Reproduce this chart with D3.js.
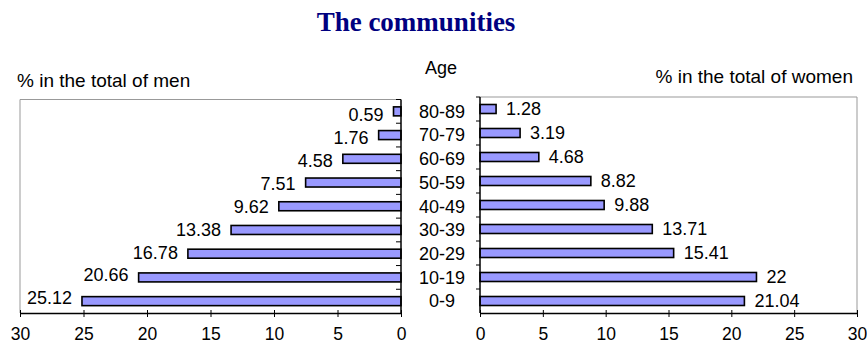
<!DOCTYPE html>
<html>
<head>
<meta charset="utf-8">
<script src="https://cdn.jsdelivr.net/npm/d3@7"></script>
<style>
  body { margin: 0; background: #fff; }
  text { font-family: "Liberation Sans", Arial, sans-serif; }
</style>
</head>
<body>
<svg id="chart"></svg>
<script>
const width = 867, height = 347;

// data, top row first
const ages = ["80-89", "70-79", "60-69", "50-59", "40-49", "30-39", "20-29", "10-19", "0-9"];
const menPct = [0.59, 1.76, 4.58, 7.51, 9.62, 13.38, 16.78, 20.66, 25.12];
const womenPct = [1.28, 3.19, 4.68, 8.82, 9.88, 13.71, 15.41, 22, 21.04];
const xTicks = [0, 5, 10, 15, 20, 25, 30];

const axisY = 313;
const barH = 9;
const barFill = '#9999ff';

const svg = d3.select('#chart')
  .attr('width', width)
  .attr('height', height);

// scales
const xLeft = d3.scaleLinear().domain([0, 30]).range([401, 20]);
const xRight = d3.scaleLinear().domain([0, 30]).range([480, 857]);
const yLeft = d3.scaleBand().domain(ages).range([99.5, axisY]);
const yRight = d3.scaleBand().domain(ages).range([97, axisY]);
// men value labels sit a bit off the bars in the original
const yLeftLab = d3.scaleBand().domain(ages).range([103.6, 309.5]);

// title
svg.append('text')
  .attr('x', 416).attr('y', 31)
  .attr('text-anchor', 'middle')
  .style('font-family', '"Liberation Serif", "Times New Roman", serif')
  .style('font-weight', 'bold')
  .style('font-size', '27px')
  .style('fill', '#000080')
  .text('The communities');

svg.append('text').attr('x', 17).attr('y', 87)
  .style('font-size', '19px').text('% in the total of men');
svg.append('text').attr('x', 853).attr('y', 83).attr('text-anchor', 'end')
  .style('font-size', '19px').text('% in the total of women');
svg.append('text').attr('x', 441).attr('y', 74).attr('text-anchor', 'middle')
  .style('font-size', '18px').text('Age');

// gray frames
svg.append('path')
  .attr('d', `M${xLeft(0)},${yLeft.range()[0]}H${xLeft(30)}V${axisY}`)
  .attr('fill', 'none').attr('stroke', '#999').attr('stroke-width', 1);
svg.append('path')
  .attr('d', `M${xRight(0)},${yRight.range()[0]}H${xRight(30)}V${axisY}`)
  .attr('fill', 'none').attr('stroke', '#999').attr('stroke-width', 1);

// bars - men
svg.append('g').selectAll('rect')
  .data(ages)
  .join('rect')
  .attr('x', (d, i) => xLeft(menPct[i]))
  .attr('y', d => yLeft(d) + yLeft.bandwidth() / 2 - barH / 2)
  .attr('width', (d, i) => xLeft(0) - xLeft(menPct[i]))
  .attr('height', barH)
  .attr('fill', barFill)
  .attr('stroke', '#000')
  .attr('stroke-width', 1.6);

svg.append('g').selectAll('text')
  .data(ages)
  .join('text')
  .attr('x', (d, i) => xLeft(menPct[i]) - 10)
  .attr('y', d => yLeftLab(d) + yLeftLab.bandwidth() / 2)
  .attr('dy', '0.35em')
  .attr('text-anchor', 'end')
  .style('font-size', '18px')
  .text((d, i) => menPct[i]);

// bars - women
svg.append('g').selectAll('rect')
  .data(ages)
  .join('rect')
  .attr('x', xRight(0))
  .attr('y', d => yRight(d) + yRight.bandwidth() / 2 - barH / 2)
  .attr('width', (d, i) => xRight(womenPct[i]) - xRight(0))
  .attr('height', barH)
  .attr('fill', barFill)
  .attr('stroke', '#000')
  .attr('stroke-width', 1.6);

svg.append('g').selectAll('text')
  .data(ages)
  .join('text')
  .attr('x', (d, i) => xRight(womenPct[i]) + 10)
  .attr('y', d => yRight(d) + yRight.bandwidth() / 2)
  .attr('dy', '0.35em')
  .style('font-size', '18px')
  .text((d, i) => womenPct[i]);

// age labels in the middle
svg.append('g').selectAll('text')
  .data(ages)
  .join('text')
  .attr('x', 442)
  .attr('y', d => yLeft(d) + yLeft.bandwidth() / 2)
  .attr('dy', '0.35em')
  .attr('text-anchor', 'middle')
  .style('font-size', '18px')
  .text(d => d);

// vertical axes with ticks at band edges
function bandAxis(yScale, x, x1, x2) {
  const g = svg.append('g');
  const edges = ages.map(a => yScale(a)).concat([yScale.range()[1]]);
  g.append('line')
    .attr('x1', x).attr('x2', x)
    .attr('y1', yScale.range()[0]).attr('y2', axisY)
    .attr('stroke', '#000').attr('stroke-width', 1.5);
  g.selectAll('.edge')
    .data(edges.slice(0, -1))
    .join('line')
    .attr('class', 'edge')
    .attr('x1', x1).attr('x2', x2)
    .attr('y1', d => d).attr('y2', d => d)
    .attr('stroke', '#000').attr('stroke-width', 1);
}
bandAxis(yLeft, xLeft(0), xLeft(0) - 5, xLeft(0));
bandAxis(yRight, xRight(0), xRight(0) - 4, xRight(0));

// bottom axes
function valueAxis(scale) {
  const g = svg.append('g')
    .attr('transform', `translate(0,${axisY})`)
    .call(d3.axisBottom(scale).tickValues(xTicks).tickSizeOuter(0).tickSizeInner(4));
  g.select('.domain').attr('stroke', '#000').attr('stroke-width', 1.5);
  g.selectAll('.tick line').attr('y1', -3).attr('y2', 4).attr('stroke', '#000');
  g.selectAll('.tick text')
    .attr('y', 15)
    .style('font-family', '"Liberation Sans", Arial, sans-serif')
    .style('font-size', '17.5px')
    .style('fill', '#000');
}
valueAxis(xLeft);
valueAxis(xRight);
</script>
</body>
</html>
